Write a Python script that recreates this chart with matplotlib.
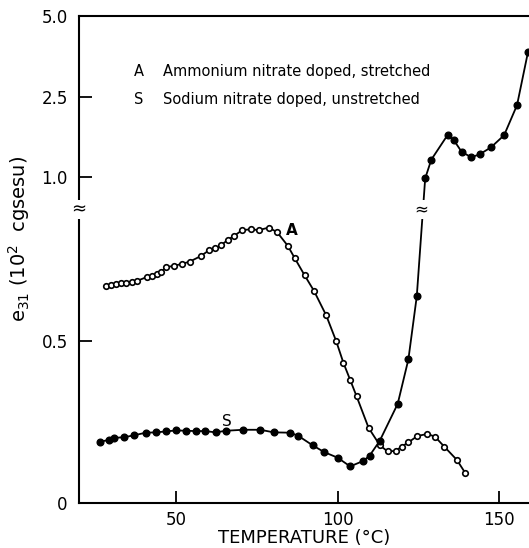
import numpy as np
from matplotlib import pyplot as plt

# A: ammonium nitrate doped, stretched (open circles)
temp_a = [28.5, 29.8, 31.4, 33.0, 34.5, 36.5, 38.1, 41.2, 42.6, 44.2, 45.5,
          47.1, 49.4, 51.9, 54.3, 57.7, 60.4, 62.2, 64.0, 66.1, 68.1, 70.5,
          73.3, 75.6, 78.7, 81.3, 84.6, 86.8, 89.8, 92.7, 96.5, 99.6, 101.8,
          103.9, 105.9, 109.6, 113.1, 115.5, 118.0, 119.8, 121.9, 124.7,
          127.8, 130.1, 133.0, 136.9, 139.4]
e31_a = [0.670, 0.672, 0.674, 0.677, 0.679, 0.682, 0.685, 0.697, 0.701, 0.705,
         0.713, 0.727, 0.731, 0.737, 0.744, 0.761, 0.780, 0.785, 0.795, 0.811,
         0.824, 0.841, 0.844, 0.841, 0.849, 0.835, 0.793, 0.754, 0.702, 0.654,
         0.578, 0.498, 0.432, 0.379, 0.328, 0.231, 0.177, 0.158, 0.160, 0.173,
         0.186, 0.206, 0.212, 0.204, 0.173, 0.132, 0.093]

# S: sodium nitrate doped, unstretched (filled circles)
temp_s = [26.7, 29.3, 30.9, 34.0, 37.1, 40.7, 44.0, 46.9, 50.2, 53.1, 56.2,
          59.1, 62.3, 65.5, 70.8, 76.1, 80.3, 85.4, 87.9, 92.3, 95.9, 100.0,
          103.9, 108.0, 109.9, 113.0, 118.6, 121.9, 124.5, 127.1, 129.0, 134.0,
          136.0, 138.4, 141.4, 144.0, 147.4, 151.5, 155.5, 158.9]
e31_s = [0.188, 0.194, 0.200, 0.202, 0.208, 0.216, 0.217, 0.220, 0.223, 0.222,
         0.221, 0.221, 0.217, 0.222, 0.225, 0.225, 0.217, 0.216, 0.206, 0.177,
         0.156, 0.139, 0.112, 0.129, 0.145, 0.190, 0.305, 0.442, 0.637, 0.997,
         1.33, 1.785, 1.688, 1.472, 1.373, 1.431, 1.556, 1.783, 2.343, 3.89]

x_ticks = [50, 100, 150]
y_ticks = [0, 0.5, 1.0, 2.5, 5.0]
y_tick_labels = ["0", "0.5", "1.0", "2.5", "5.0"]

# broken axis: linear up to the break, compressed above it
SCALE_V = [0.0, 0.9, 1.0, 2.5, 5.0]
SCALE_U = [0.0, 0.9, 1.004, 1.253, 1.502]


def forward(v):
    return np.interp(v, SCALE_V, SCALE_U)


def inverse(u):
    return np.interp(u, SCALE_U, SCALE_V)


fig = plt.figure(figsize=(5.29, 5.48), dpi=100)
ax = fig.add_axes([0.149, 0.0827, 0.851, 0.8881])
ax.set_yscale("function", functions=(forward, inverse))

ax.plot(temp_a, e31_a, "-", color="black", lw=1.3, marker="o", ms=4.0,
        mfc="white", mec="black", mew=1.2, zorder=3)
ax.plot(temp_s, e31_s, "-", color="black", lw=1.3, marker="o", ms=4.8,
        mfc="black", mec="black", zorder=3, clip_on=False)

ax.set_xlim(20, 159.2)
ax.set_ylim(0, 5.0)

ax.set_xticks(x_ticks)
ax.set_yticks(y_ticks)
ax.set_yticklabels(y_tick_labels)
ax.minorticks_off()
ax.tick_params(direction="in", length=9, width=1.3, labelsize=12, pad=8)
ax.tick_params(axis="x", pad=6)

for side in ["left", "bottom", "top"]:
    ax.spines[side].set_linewidth(1.5)
ax.spines["right"].set_visible(False)

ax.set_xlabel("TEMPERATURE (°C)", fontsize=13, labelpad=0)
ax.set_ylabel("e$_{31}$ (10$^{2}$  cgsesu)", fontsize=14)
ax.yaxis.set_label_coords(-0.105, 0.542)

# axis and curve break marks
ax.text(0.0, 0.905, "≈", transform=ax.get_yaxis_transform(), ha="center",
        va="center", fontsize=13, bbox=dict(fc="white", ec="none", pad=0.5))
ax.text(125.8, 0.905, "≈", ha="center", va="center", fontsize=12,
        bbox=dict(fc="white", ec="none", pad=0.3), zorder=4)

# curve labels
ax.text(85.8, 0.84, "A", fontsize=11, ha="center", va="center", weight="bold")
ax.text(65.7, 0.252, "S", fontsize=11, ha="center", va="center")

# key
ax.text(0.123, 0.885, "A", transform=ax.transAxes, fontsize=10.5, va="center")
ax.text(0.187, 0.885, "Ammonium nitrate doped, stretched",
        transform=ax.transAxes, fontsize=10.5, va="center")
ax.text(0.123, 0.829, "S", transform=ax.transAxes, fontsize=10.5, va="center")
ax.text(0.187, 0.829, "Sodium nitrate doped, unstretched",
        transform=ax.transAxes, fontsize=10.5, va="center")

fig.savefig("out.png", dpi=100)
